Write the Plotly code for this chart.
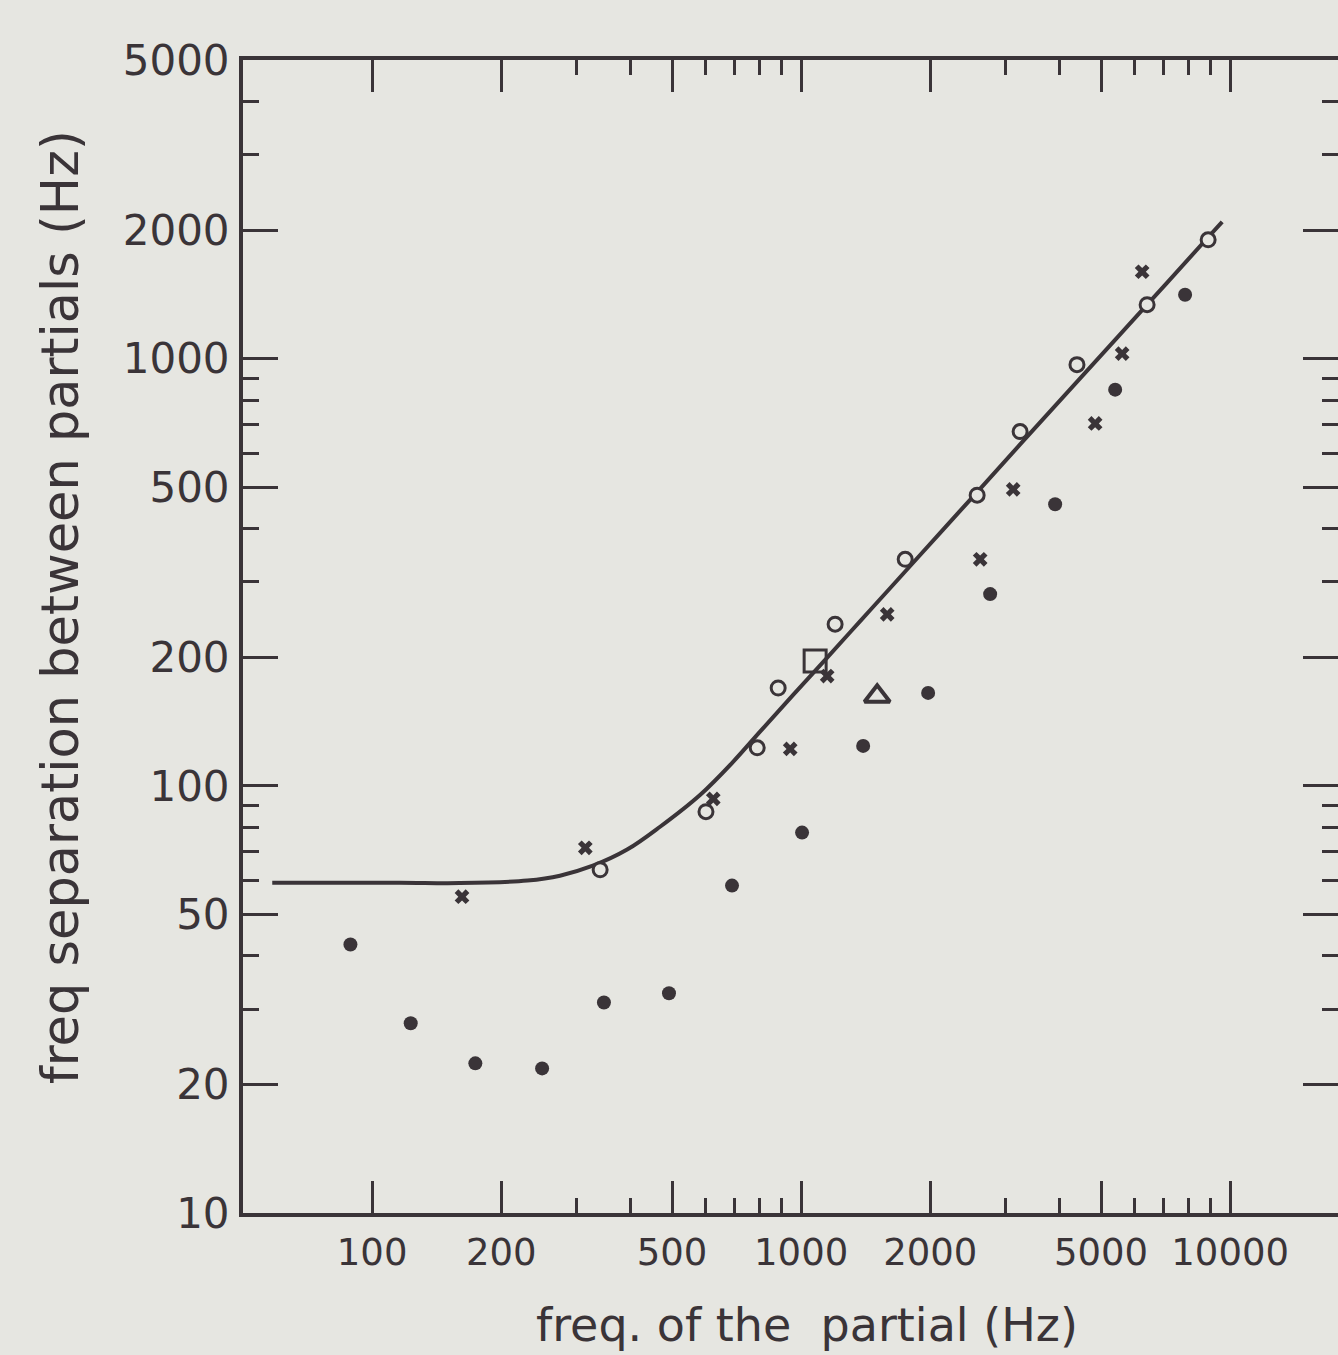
import plotly.graph_objects as go
import math

# --- data ---
filled_x = [89, 123, 174, 249, 347, 492, 690, 1005, 1395, 1977, 2758, 3909, 5395, 7852]
filled_y = [42.5, 27.8, 22.4, 21.8, 31.1, 32.7, 58.4, 77.7, 124, 165, 281, 456, 846, 1411]

open_x = [340, 600, 790, 884, 1200, 1748, 2572, 3239, 4395, 6404, 8886]
open_y = [63.6, 87.0, 122.7, 169.4, 239, 339, 479, 675, 968, 1337, 1897]

cross_x = [162, 314, 624, 943, 1150, 1587, 2614, 3121, 4845, 5601, 6236]
cross_y = [55.0, 71.6, 93.2, 122, 180.7, 252, 339, 494, 705, 1027, 1597]

square_x = [1078]
square_y = [196]

triangle_x = [1504]
triangle_y = [162]

# fitted curve as drawn in the figure
curve_x = [58.5, 116, 160, 230, 274, 327, 393, 469, 582, 694, 803, 958, 1150,
           1373, 1639, 2109, 2572, 3239, 4399, 6404, 8886, 9582]
curve_y = [59.3, 59.3, 59.2, 60.0, 61.6, 65.0, 70.9, 80.2, 95.3, 113.8, 134.1,
           163.2, 199.6, 242.9, 295.6, 390.9, 487.1, 629.9, 883.6, 1337, 1923, 2090]

x_major = [100, 200, 500, 1000, 2000, 5000, 10000]
x_major_text = ['100', '200', '500', '1000', '2000', '5000', '10000']
x_minor = [300, 400, 600, 700, 800, 900, 3000, 4000, 6000, 7000, 8000, 9000]

y_major = [10, 20, 50, 100, 200, 500, 1000, 2000, 5000]
y_major_text = ['10', '20', '50', '100', '200', '500', '1000', '2000', '5000']
y_minor = [30, 40, 60, 70, 80, 90, 300, 400, 600, 700, 800, 900, 3000, 4000]

ink = 'rgb(58,52,56)'
paper = 'rgb(230,230,225)'
font_family = 'DejaVu Sans'

x_range = [math.log10(50), math.log10(50) + (1338 - 243) / 429]
y_range = [1, math.log10(5000)]

fig = go.Figure()

fig.add_trace(go.Scatter(x=curve_x, y=curve_y, mode='lines',
                         line=dict(color=ink, width=4, shape='spline', smoothing=1.0)))
fig.add_trace(go.Scatter(x=filled_x, y=filled_y, mode='markers',
                         marker=dict(symbol='circle', size=14, color=ink)))
fig.add_trace(go.Scatter(x=open_x, y=open_y, mode='markers',
                         marker=dict(symbol='circle', size=14, color=paper,
                                     line=dict(color=ink, width=3))))
fig.add_trace(go.Scatter(x=cross_x, y=cross_y, mode='markers',
                         marker=dict(symbol='x', size=13, color=ink,
                                     line=dict(width=0))))
fig.add_trace(go.Scatter(x=square_x, y=square_y, mode='markers',
                         marker=dict(symbol='square-open', size=22, color=ink,
                                     line=dict(color=ink, width=3))))
fig.add_trace(go.Scatter(x=triangle_x, y=triangle_y, mode='markers',
                         marker=dict(symbol='triangle-up-open', size=22, color=ink,
                                     line=dict(color=ink, width=4))))

# invisible traces so the top / right tick axes get drawn
fig.add_trace(go.Scatter(x=[100], y=[100], xaxis='x2', yaxis='y', mode='markers',
                         marker=dict(opacity=0), hoverinfo='skip'))
fig.add_trace(go.Scatter(x=[100], y=[100], xaxis='x', yaxis='y2', mode='markers',
                         marker=dict(opacity=0), hoverinfo='skip'))

tick_common = dict(ticks='inside', tickcolor=ink, tickwidth=3,
                   showgrid=False, zeroline=False, type='log')

fig.update_layout(
    xaxis=dict(
        range=x_range, side='bottom', anchor='y',
        showline=True, linecolor=ink, linewidth=4,
        tickmode='array', tickvals=x_major, ticktext=x_major_text, ticklen=32,
        ticklabelstandoff=4,
        tickfont=dict(size=37, color=ink, family=font_family),
        minor=dict(tickvals=x_minor, ticks='inside', ticklen=15, tickwidth=3, tickcolor=ink),
        **tick_common,
    ),
    xaxis2=dict(
        range=x_range, side='top', overlaying='x', anchor='y',
        showline=True, linecolor=ink, linewidth=4, showticklabels=False,
        tickmode='array', tickvals=x_major, ticklen=32,
        minor=dict(tickvals=x_minor, ticks='inside', ticklen=15, tickwidth=3, tickcolor=ink),
        **tick_common,
    ),
    yaxis=dict(
        range=y_range, side='left', anchor='x',
        showline=True, linecolor=ink, linewidth=4,
        tickmode='array', tickvals=y_major, ticktext=y_major_text, ticklen=35,
        ticklabelstandoff=1,
        tickfont=dict(size=42, color=ink, family=font_family),
        minor=dict(tickvals=y_minor, ticks='inside', ticklen=16, tickwidth=3, tickcolor=ink),
        **tick_common,
    ),
    yaxis2=dict(
        range=y_range, side='right', overlaying='y', anchor='x',
        showline=False, showticklabels=False,
        tickmode='array', tickvals=y_major, ticklen=35,
        minor=dict(tickvals=y_minor, ticks='inside', ticklen=16, tickwidth=3, tickcolor=ink),
        **tick_common,
    ),
)

# axis titles as annotations to place them like the scan
fig.add_annotation(text='freq separation between partials (Hz)', textangle=-90,
                   xref='paper', yref='paper', x=-0.166, y=0.5256,
                   xanchor='center', yanchor='middle',
                   showarrow=False, font=dict(size=51, color=ink, family=font_family))
fig.add_annotation(text='freq. of the  partial (Hz)',
                   xref='paper', yref='paper', x=0.515, y=-0.097,
                   xanchor='center', yanchor='middle',
                   showarrow=False, font=dict(size=46, color=ink, family=font_family))

fig.update_layout(
    width=1338, height=1355,
    paper_bgcolor=paper, plot_bgcolor=paper,
    showlegend=False,
    margin=dict(l=243, r=0, t=60, b=142),
    font=dict(family=font_family, color=ink),
)

# drop the default page margin so the figure sits at the window's corner
fig.write_html("out.html",
               config={'displayModeBar': False},
               post_script="document.body.style.margin='0';"
                           "document.documentElement.style.overflow='hidden';")
